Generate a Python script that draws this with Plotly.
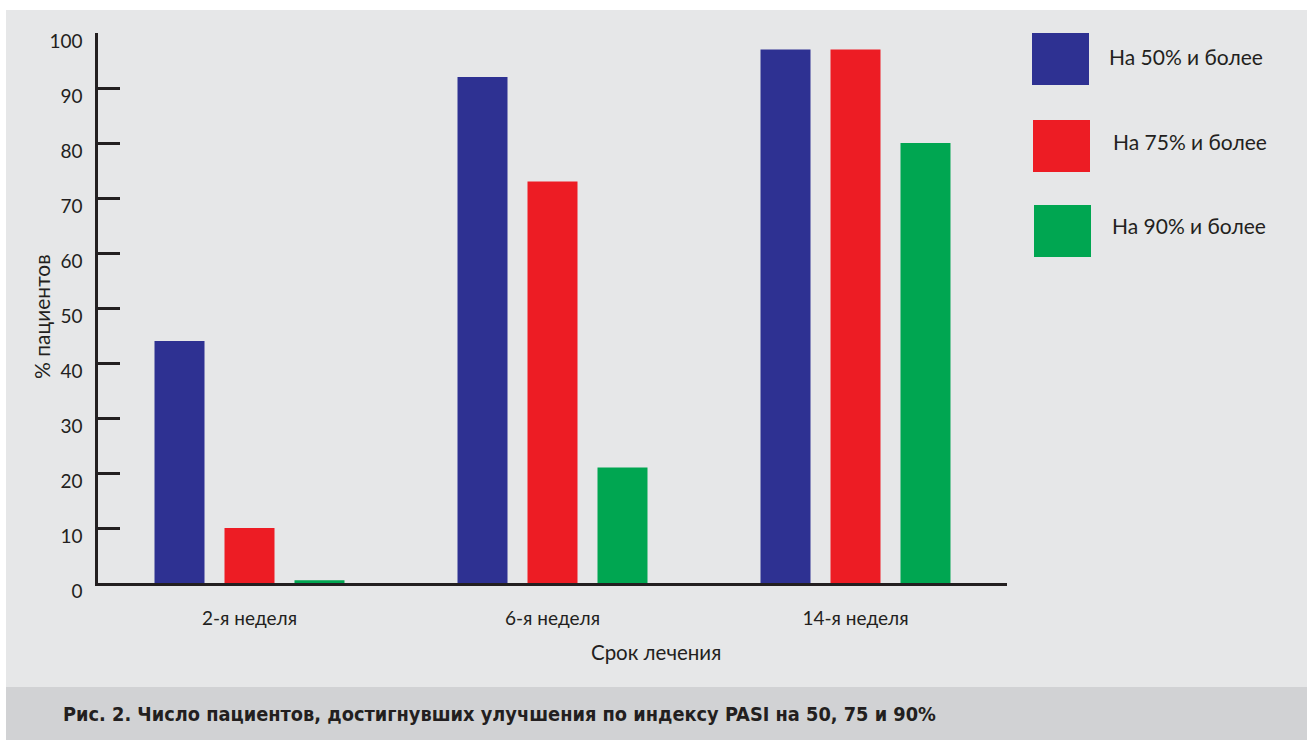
import plotly.graph_objects as go

# Treatment time points and share of patients reaching each PASI improvement level
weeks = ["2-я неделя", "6-я неделя", "14-я неделя"]
pasi50 = [44, 92, 97]
pasi75 = [10, 73, 97]
pasi90 = [0.5, 21, 80]
series_names = ["На 50% и более", "На 75% и более", "На 90% и более"]
series_colors = ["#2e3192", "#ed1c24", "#00a651"]
y_ticks = list(range(0, 101, 10))

W, H = 1312, 740
L, R, T, B = 98, 305, 33, 157
PW, PH = W - L - R, H - T - B
INK = "#231f20"
FONT = "Lato, 'Noto Sans', sans-serif"


def px(x):
    return (x - L) / PW


def py(y):
    return (H - B - y) / PH


fig = go.Figure()
for name, vals, color in zip(series_names, [pasi50, pasi75, pasi90], series_colors):
    fig.add_trace(go.Bar(x=weeks, y=vals, name=name, marker_color=color,
                         marker_line_width=0, showlegend=False))

shapes = [
    # grey panel behind the chart
    dict(type="rect", xref="paper", yref="paper", x0=px(6), x1=px(1307),
         y0=py(687), y1=py(10), fillcolor="#e6e7e8", line_width=0, layer="below"),
    # caption band
    dict(type="rect", xref="paper", yref="paper", x0=px(6), x1=px(1307),
         y0=py(740), y1=py(687), fillcolor="#d1d2d4", line_width=0, layer="below"),
]

annotations = []
# legend swatches and labels
swatch_tops = [33, 120, 205]
label_x = [1107, 1111, 1110]
label_y = [57, 141, 225]
for i, (name, color) in enumerate(zip(series_names, series_colors)):
    top = swatch_tops[i]
    shapes.append(dict(type="rect", xref="paper", yref="paper",
                       x0=px(1032 + i), x1=px(1089 + i), y0=py(top + 52), y1=py(top),
                       fillcolor=color, line_width=0))
    annotations.append(dict(xref="paper", yref="paper", x=px(label_x[i]), y=py(label_y[i]),
                            xanchor="left", yanchor="middle", showarrow=False, text=name,
                            font=dict(family=FONT, size=21, color=INK)))

# axis titles
annotations.append(dict(xref="paper", yref="paper", x=px(656), y=py(652),
                        xanchor="center", yanchor="middle", showarrow=False,
                        text="Срок лечения", font=dict(family=FONT, size=20.5, color=INK)))
annotations.append(dict(xref="paper", yref="paper", x=px(41), y=py(317),
                        xanchor="center", yanchor="middle", showarrow=False, textangle=-90,
                        text="% пациентов", font=dict(family=FONT, size=21, color=INK)))

annotations.append(dict(
    xref="paper", yref="paper", x=px(61), y=py(714), xanchor="left", yanchor="middle",
    showarrow=False,
    text="<b>Рис. 2. Число пациентов, достигнувших улучшения по индексу PASI на 50, 75 и 90%</b>",
    font=dict(family="'DejaVu Sans Condensed', 'Liberation Sans Narrow', sans-serif",
              size=19.8, color=INK)))

fig.update_layout(
    width=W, height=H,
    margin=dict(l=L, r=R, t=T, b=B, autoexpand=False),
    paper_bgcolor="white",
    plot_bgcolor="rgba(0,0,0,0)",
    barmode="group",
    bargap=0.307,
    bargroupgap=0.2857,
    shapes=shapes,
    annotations=annotations,
    font=dict(family=FONT, size=19, color=INK),
    xaxis=dict(
        range=[-0.5, 2.5], showgrid=False, zeroline=False,
        showline=True, linecolor=INK, linewidth=3,
        ticks="", ticklabelstandoff=16,
        tickfont=dict(family=FONT, size=19, color=INK),
    ),
    yaxis=dict(
        range=[0, 100], tickvals=y_ticks, showgrid=False, zeroline=False,
        showline=True, linecolor=INK, linewidth=2.5,
        ticks="inside", ticklen=22, tickwidth=2.5, tickcolor=INK,
        ticklabelshift=8, ticklabelstandoff=9,
        tickfont=dict(family=FONT, size=19, color=INK),
    ),
)

fig.write_html("out.html")
